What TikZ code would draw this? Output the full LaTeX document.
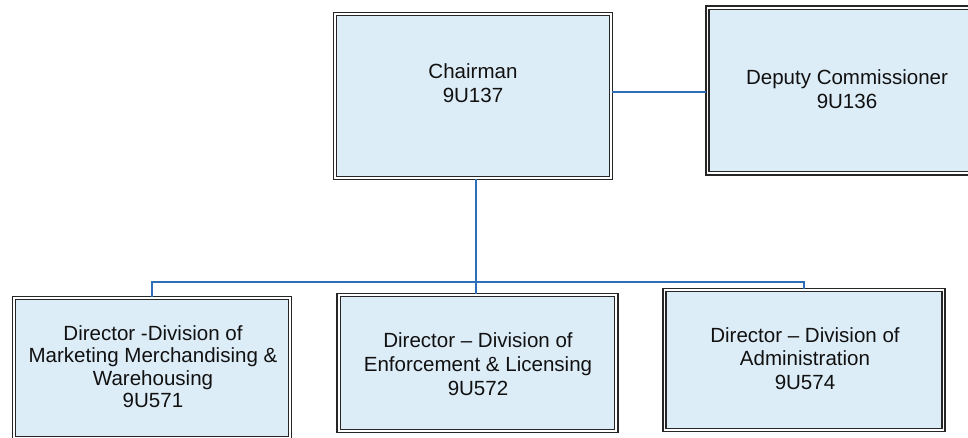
\documentclass[tikz,border=0pt]{standalone}
\usepackage{fontspec}
\setmainfont{Liberation Sans}
\definecolor{boxfill}{HTML}{DDEDF8}
\definecolor{boxline}{HTML}{262626}
\definecolor{linkblue}{HTML}{2F6DB8}
\definecolor{txt}{HTML}{111111}
\tikzset{
  unitbox/.style={draw=boxline, fill=boxfill, line width=1.3pt, double=white, double distance=1.1pt, rectangle, inner sep=0pt},
  boxtext/.style={align=center, text=txt, font=\fontsize{15.4pt}{17.8pt}\selectfont, inner sep=0pt},
  link/.style={draw=linkblue, line width=1.3pt}
}
\begin{document}
\begin{tikzpicture}[x=0.75pt,y=-0.75pt]
\useasboundingbox (0,0) rectangle (968,437);
\clip (0,0) rectangle (968,437);
\fill[white] (0,0) rectangle (968,437);
% boxes
\node[unitbox, minimum width=207pt, minimum height=123pt] (chair) at (473,96) {};
\node[unitbox, minimum width=211pt, minimum height=124pt] (deputy) at (848,90.5) {};
\node[unitbox, minimum width=207pt, minimum height=105pt] (d1) at (152,368) {};
\node[unitbox, minimum width=208pt, minimum height=102pt] (d2) at (477.5,363) {};
\node[unitbox, minimum width=209pt, minimum height=105pt] (d3) at (804,360) {};
% texts
\node[boxtext] (chairT) at (473,83) {Chairman\\9U137};
\node[boxtext] (deputyT) at (847,89.5) {Deputy Commissioner\\9U136};
\node[boxtext, font=\fontsize{15.4pt}{16.8pt}\selectfont] (d1T) at (153,366.5) {Director -Division of\\Marketing Merchandising \&\\Warehousing\\9U571};
\node[boxtext] (d2T) at (478,364) {Director -- Division of\\Enforcement \& Licensing\\9U572};
\node[boxtext] (d3T) at (805,358.5) {Director -- Division of\\Administration\\9U574};
% connectors
\coordinate (bus) at (476,282);
\coordinate (side) at (660,92);
\draw[link] (chair.east |- side) -- (deputy.west |- side);
\draw[link] (chair.south -| bus) -- (bus);
\draw[link] (d1.north) |- (bus) -| (d3.north);
\draw[link] (bus) -- (d2.north -| bus);
\end{tikzpicture}
\end{document}
